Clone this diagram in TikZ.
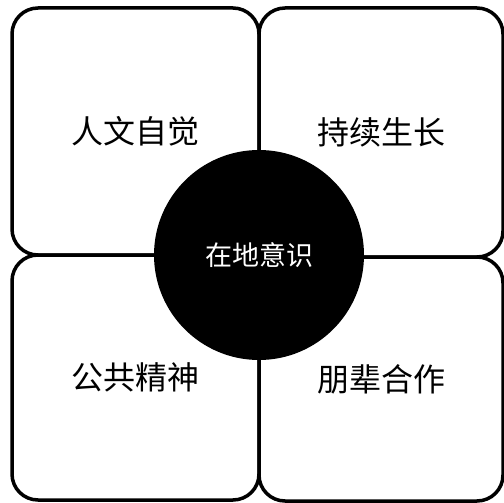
\documentclass[tikz,border=0pt]{standalone}
\usepackage{fontspec}
\usepackage{tikz}
\newfontfamily\cjk{Noto Sans CJK SC}

\begin{document}
\begin{tikzpicture}[x=1pt,y=-1pt,
    petal/.style={draw,line width=3.5pt,rounded corners=26pt,inner sep=0pt,
        font=\cjk\fontsize{32}{36}\selectfont},
    core/.style={circle,fill=black,text=white,inner sep=0pt,minimum size=210pt,
        font=\cjk\fontsize{27}{30}\selectfont}]

    \useasboundingbox (0,0) rectangle (504,503);

    \node[petal,minimum width=247pt,minimum height=247pt] (renwen) at (135.5,131.5) {人文自觉};
    \node[petal,minimum width=244pt,minimum height=249pt] (chixu) at (381,132.5) {持续生长};
    \node[petal,minimum width=247pt,minimum height=245pt] (gonggong) at (135.5,377.5) {公共精神};
    \node[petal,minimum width=244pt,minimum height=244pt] (pengbei) at (381,379) {朋辈合作};

    \node[core] (zaidi) at (259,255) {在地意识};

\end{tikzpicture}
\end{document}
